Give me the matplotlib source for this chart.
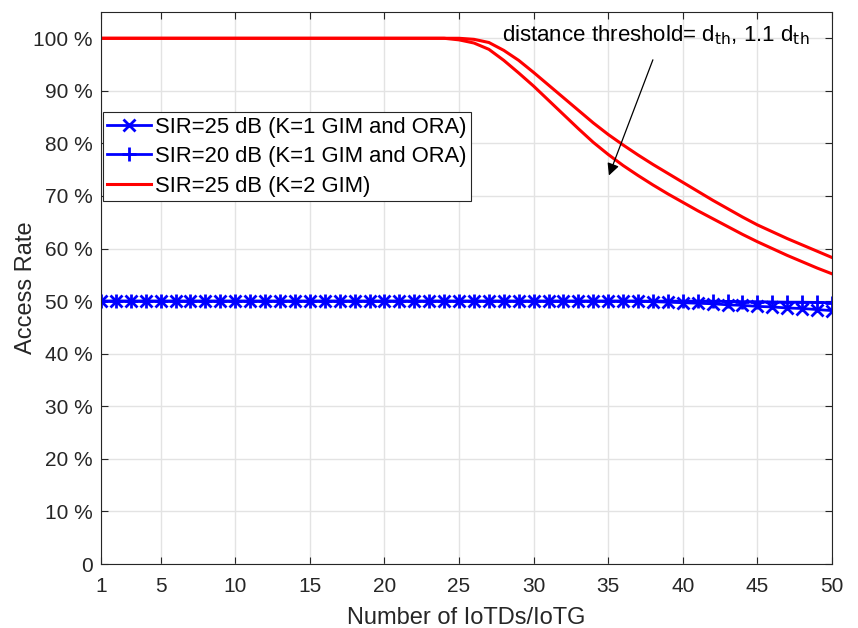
import matplotlib.pyplot as plt
import numpy as np
from matplotlib.ticker import FuncFormatter

plt.rcParams['font.family'] = ['Liberation Sans', 'DejaVu Sans']

# --- данные ---
n_devices = np.arange(1, 51)

sir25_k1 = np.array([50.0] * 37 + [49.9, 49.8, 49.7, 49.6, 49.5, 49.3, 49.2,
                                   49.0, 48.9, 48.7, 48.6, 48.4, 48.2])
sir20_k1 = np.array([50.0] * 42 + [49.95, 49.9, 49.9, 49.85, 49.8, 49.8, 49.75, 49.7])

k2_dth = np.array([100.0] * 24 + [99.7, 99.1, 97.9, 95.8, 93.4, 90.9, 88.2, 85.5,
                                  82.8, 80.2, 77.9, 75.8, 73.9, 72.1, 70.4, 68.8,
                                  67.2, 65.7, 64.2, 62.7, 61.3, 60.0, 58.7, 57.5,
                                  56.3, 55.2])
k2_11dth = np.array([100.0] * 25 + [99.8, 99.2, 97.7, 95.8, 93.5, 91.1, 88.7,
                                    86.3, 83.9, 81.7, 79.7, 77.8, 76.0, 74.3, 72.6,
                                    70.9, 69.2, 67.6, 66.0, 64.5, 63.2, 61.9, 60.7,
                                    59.5, 58.3])

x_ticks = [1, 5, 10, 15, 20, 25, 30, 35, 40, 45, 50]
y_ticks = np.arange(0, 101, 10)

# --- график ---
fig = plt.figure(figsize=(8.58, 6.28), dpi=100)
ax = fig.add_axes([0.1177, 0.1019, 0.852, 0.879])

ax.plot(n_devices, sir25_k1, color='#0000ff', lw=2, marker='x', ms=8, mew=2,
        label='SIR=25 dB (K=1 GIM and ORA)')
ax.plot(n_devices, sir20_k1, color='#0000ff', lw=2, marker='+', ms=10, mew=2,
        label='SIR=20 dB (K=1 GIM and ORA)')
ax.plot(n_devices, k2_dth, color='#ff0000', lw=2.2, label='SIR=25 dB (K=2 GIM)')
ax.plot(n_devices, k2_11dth, color='#ff0000', lw=2.2)

ax.set_xlim(1, 50)
ax.set_ylim(0, 105)
ax.set_xticks(x_ticks)
ax.set_yticks(y_ticks)
ax.yaxis.set_major_formatter(FuncFormatter(lambda v, p: '0' if v == 0 else '%d %%' % v))
ax.grid(True, color='#e3e3e3', lw=1)
ax.set_axisbelow(True)
ax.tick_params(direction='in', top=True, right=True, labelsize=15,
               colors='#262626', length=5)
ax.tick_params(axis='x', pad=9)
ax.tick_params(axis='y', pad=6)
for s in ax.spines.values():
    s.set_color('#262626')
ax.set_xlabel('Number of IoTDs/IoTG', fontsize=17, color='#262626', labelpad=8.5)
ax.set_ylabel('Access Rate', fontsize=17, color='#262626', labelpad=-2.5)

ax.annotate('', xy=(34.98, 73.4), xytext=(38.06, 96.4),
            arrowprops=dict(arrowstyle='-|>', color='black', lw=0.9,
                            mutation_scale=18))
ax.text(27.9, 99.4, 'distance threshold= d$_{\\rm th}$, 1.1 d$_{\\rm th}$',
        fontsize=16, va='baseline', ha='left')

leg = ax.legend(loc='upper left', bbox_to_anchor=(0.0023, 0.8194), fontsize=15.8,
                fancybox=False, framealpha=1, edgecolor='#262626',
                handlelength=2.0, handletextpad=0.16, borderpad=0.22,
                labelspacing=0.39, borderaxespad=0)
leg.get_frame().set_linewidth(0.8)

fig.savefig('out.png', dpi=100)
